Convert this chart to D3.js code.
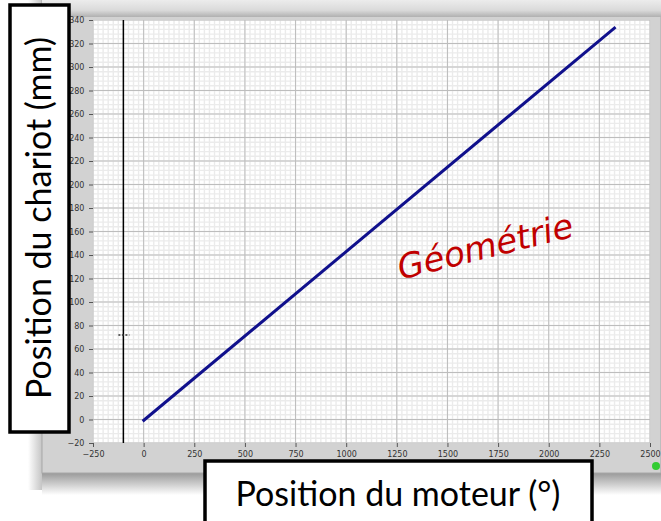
<!DOCTYPE html>
<html>
<head>
<meta charset="utf-8">
<script src="https://cdn.jsdelivr.net/npm/d3@7.9.0/dist/d3.min.js"></script>
<style>
  body { margin: 0; background: #fff; }
  svg { display: block; }
</style>
</head>
<body>
<svg id="chart" width="661" height="521"></svg>
<script>
// values
const motorPos = [-5, 2330];          // degrees
const chariotPos = [-1.5, 334];       // mm
const xTicks = [-250, 0, 250, 500, 750, 1000, 1250, 1500, 1750, 2000, 2250, 2500];
const yTicks = [-20, 0, 20, 40, 60, 80, 100, 120, 140, 160, 180, 200, 220, 240, 260, 280, 300, 320, 340];
const cursorX = -100;
const cursorY = 72;

const svg = d3.select("#chart");
const x = d3.scaleLinear().domain([-250, 2500]).range([93, 650]);
const y = d3.scaleLinear().domain([-20, 340]).range([443, 20]);

const defs = svg.append("defs");
const topGrad = defs.append("linearGradient").attr("id", "topGrad").attr("x1", 0).attr("x2", 0).attr("y1", 0).attr("y2", 1);
topGrad.append("stop").attr("offset", "0%").attr("stop-color", "#ececec");
topGrad.append("stop").attr("offset", "60%").attr("stop-color", "#dadada");
topGrad.append("stop").attr("offset", "100%").attr("stop-color", "#b0b0b0");
const shadowGrad = defs.append("linearGradient").attr("id", "shadowGrad").attr("x1", 0).attr("x2", 0).attr("y1", 0).attr("y2", 1);
shadowGrad.append("stop").attr("offset", "0%").attr("stop-color", "#9a9a9a");
shadowGrad.append("stop").attr("offset", "100%").attr("stop-color", "#ffffff");
const leftShadow = defs.append("linearGradient").attr("id", "leftShadow").attr("x1", 0).attr("x2", 1);
leftShadow.append("stop").attr("offset", "0%").attr("stop-color", "#ffffff");
leftShadow.append("stop").attr("offset", "100%").attr("stop-color", "#c5c5c5");

// panel + shadows
svg.append("rect").attr("x", 42).attr("y", 473).attr("width", 619).attr("height", 22).attr("fill", "url(#shadowGrad)");
svg.append("rect").attr("x", 28).attr("y", 0).attr("width", 14).attr("height", 490).attr("fill", "url(#leftShadow)");
svg.append("rect").attr("x", 42).attr("y", 0).attr("width", 619).attr("height", 473).attr("fill", "#d2d2d2").attr("stroke", "#a8a8a8");
svg.append("rect").attr("x", 42).attr("y", 0).attr("width", 619).attr("height", 17).attr("fill", "url(#topGrad)");

// plot area
svg.append("rect").attr("x", x(-250)).attr("y", y(340)).attr("width", x(2500) - x(-250)).attr("height", y(-20) - y(340)).attr("fill", "#ffffff");

const grid = svg.append("g");
const xMinor = d3.range(-250, 2501, 25);
const yMinor = d3.range(-20, 341, 4);
grid.selectAll(".xm").data(xMinor).enter().append("line")
  .attr("x1", d => x(d)).attr("x2", d => x(d)).attr("y1", y(340)).attr("y2", y(-20))
  .attr("stroke", "#ebebeb").attr("stroke-width", 1.4);
grid.selectAll(".ym").data(yMinor).enter().append("line")
  .attr("y1", d => y(d)).attr("y2", d => y(d)).attr("x1", x(-250)).attr("x2", x(2500))
  .attr("stroke", "#ebebeb").attr("stroke-width", 1.4);
grid.selectAll(".xM").data(xTicks).enter().append("line")
  .attr("x1", d => x(d)).attr("x2", d => x(d)).attr("y1", y(340)).attr("y2", y(-20))
  .attr("stroke", "#bdbdbd").attr("stroke-width", 1);
grid.selectAll(".yM").data(yTicks).enter().append("line")
  .attr("y1", d => y(d)).attr("y2", d => y(d)).attr("x1", x(-250)).attr("x2", x(2500))
  .attr("stroke", "#bdbdbd").attr("stroke-width", 1);

// axes
const xAxis = svg.append("g").attr("transform", `translate(0,${y(-20)})`)
  .call(d3.axisBottom(x).tickValues(xTicks).tickFormat(d3.format("d")).tickSize(4).tickSizeOuter(0));
const yAxis = svg.append("g").attr("transform", `translate(${x(-250)},0)`)
  .call(d3.axisLeft(y).tickValues(yTicks).tickFormat(d3.format("d")).tickSize(4).tickSizeOuter(0));
[xAxis, yAxis].forEach(a => {
  a.select(".domain").remove();
  a.selectAll("line").attr("stroke", "#555");
  a.selectAll("text").attr("fill", "#333").style("font-family", "DejaVu Sans").style("font-size", "8px");
});
xAxis.selectAll("text").attr("dy", "0.9em");
yAxis.selectAll("text").attr("dx", "-0.2em");

// data line
const line = d3.line().x(d => x(d[0])).y(d => y(d[1]));
svg.append("path").datum(d3.zip(motorPos, chariotPos))
  .attr("d", line).attr("fill", "none").attr("stroke", "#10108c").attr("stroke-width", 3);

// cursor
svg.append("line").attr("x1", x(cursorX)).attr("x2", x(cursorX)).attr("y1", y(340)).attr("y2", y(-20))
  .attr("stroke", "#000").attr("stroke-width", 1.5);
svg.append("line").attr("x1", x(cursorX) - 5).attr("x2", x(cursorX) + 6).attr("y1", y(cursorY)).attr("y2", y(cursorY))
  .attr("stroke", "#333").attr("stroke-width", 1.5).attr("stroke-dasharray", "2,1.5");

// status dot
svg.append("circle").attr("cx", 656).attr("cy", 466).attr("r", 4).attr("fill", "#33cc33");

// handwritten annotation
svg.append("text").attr("transform", "translate(488,258) rotate(-14)")
  .attr("text-anchor", "middle").attr("fill", "#c00000")
  .style("font-family", "DejaVu Sans").style("font-style", "italic").style("font-size", "34px")
  .text("Géométrie");

// y label box
svg.append("rect").attr("x", 10).attr("y", 5).attr("width", 59).attr("height", 427)
  .attr("fill", "#fff").attr("stroke", "#000").attr("stroke-width", 3.5);
svg.append("text").attr("transform", "translate(51,218) rotate(-90)")
  .attr("text-anchor", "middle").attr("fill", "#000")
  .style("font-family", "Lato").style("font-size", "34px")
  .text("Position du chariot (mm)");

// x label box
svg.append("rect").attr("x", 205).attr("y", 461).attr("width", 387).attr("height", 70)
  .attr("fill", "#fff").attr("stroke", "#000").attr("stroke-width", 3.5);
svg.append("text").attr("x", 398).attr("y", 506)
  .attr("text-anchor", "middle").attr("fill", "#000")
  .style("font-family", "Lato").style("font-size", "34px")
  .text("Position du moteur (°)");
</script>
</body>
</html>
